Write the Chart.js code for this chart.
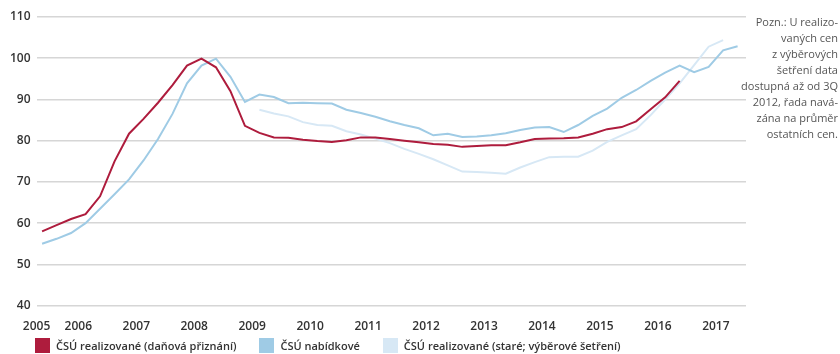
<!DOCTYPE html>
<html>
<head>
<meta charset="utf-8">
<script src="https://cdn.jsdelivr.net/npm/chart.js@4/dist/chart.umd.min.js"></script>
<style>
  html, body { margin: 0; padding: 0; background: #fff; }
  #wrap { position: relative; width: 840px; height: 354px; }
  #note {
    position: absolute; right: 2px; top: 14px;
    font: 11px "Liberation Sans Narrow", "Open Sans", sans-serif;
    color: #555; text-align: right; line-height: 16px;
  }
  #legend {
    position: absolute; left: 35px; top: 338px;
    display: flex; gap: 23px;
    font: 600 11px "Open Sans", sans-serif; color: #333;
  }
  #legend span.item { display: flex; align-items: center; }
  #legend span.box { width: 15px; height: 15px; margin-right: 6px; display: inline-block; }
</style>
</head>
<body>
<div id="wrap">
  <canvas id="chart" width="840" height="354"></canvas>
  <div id="note">Pozn.: U realizo-<br>vaných cen<br>z výběrových<br>šetření data<br>dostupná až od 3Q<br>2012, řada navá-<br>zána na průměr<br>ostatních cen.</div>
  <div id="legend"></div>
</div>
<script>
// čtvrtletí (první bod 2005Q2)
const firstYear = 2005, firstQ = 2;
const yearTicks = [2005, 2006, 2007, 2008, 2009, 2010, 2011, 2012, 2013, 2014, 2015, 2016, 2017];

// ČSÚ realizované (daňová přiznání) 2005Q2 - 2016Q2
const realDane = [
  58, 59.5, 61,
  62.2, 66.5, 75, 81.7,
  85.3, 89.2, 93.5, 98.2,
  99.9, 97.8, 92, 83.6,
  81.9, 80.8, 80.7, 80.2,
  79.9, 79.7, 80.1, 80.8,
  80.8, 80.4, 80.0, 79.6,
  79.2, 79.0, 78.5, 78.7,
  78.9, 78.9, 79.6, 80.4,
  80.5, 80.6, 80.8, 81.7,
  82.8, 83.3, 84.7, 87.6,
  90.5, 94.5
];

// ČSÚ nabídkové 2005Q2 - 2017Q2
const nabidkove = [
  55, 56.2, 57.6,
  60, 63.5, 67, 70.6,
  75.2, 80.4, 86.5, 93.9,
  98.2, 99.9, 95.5, 89.4,
  91.2, 90.6, 89.1, 89.2,
  89.1, 89.0, 87.5, 86.7,
  85.8, 84.7, 83.8, 83.0,
  81.3, 81.7, 80.9, 81.0,
  81.3, 81.8, 82.6, 83.2,
  83.3, 82.1, 83.8, 86.0,
  87.8, 90.4, 92.3, 94.5,
  96.5, 98.2, 96.6, 97.9,
  101.9, 102.9
];

// ČSÚ realizované (staré; výběrové šetření) 2009Q1 - 2017Q1
const stareStart = 2009;
const realStare = [
  87.5, 86.6, 85.9, 84.5,
  83.8, 83.6, 82.3, 81.5,
  80.5, 79.4, 78.0, 76.8,
  75.5, 74.0, 72.5, 72.4,
  72.2, 72.0, 73.5, 74.8,
  76.0, 76.1, 76.1, 77.6,
  79.7, 81.3, 82.8, 86.2,
  90.0, 93.9, 98.3, 102.8,
  104.4
];

// bod uprostřed čtvrtletí
function toPoints(values, year, q) {
  return values.map((v, i) => {
    const k = (q - 1) + i;
    return { x: year + Math.floor(k / 4) + ((k % 4) + 0.5) / 4, y: v };
  });
}

const datasets = [
  { label: 'ČSÚ realizované (daňová přiznání)', data: toPoints(realDane, firstYear, firstQ), borderColor: '#ae1c3d' },
  { label: 'ČSÚ nabídkové', data: toPoints(nabidkove, firstYear, firstQ), borderColor: '#9fcbe5' },
  { label: 'ČSÚ realizované (staré; výběrové šetření)', data: toPoints(realStare, stareStart, 1), borderColor: '#d7e8f5' }
];
datasets.forEach(d => {
  d.borderWidth = 2;
  d.pointRadius = 0;
  d.tension = 0;
  d.fill = false;
  d.backgroundColor = d.borderColor;
});

const xMin = 2005.28, xMax = 2017.52;

new Chart(document.getElementById('chart'), {
  type: 'line',
  data: { datasets: datasets },
  options: {
    responsive: false,
    animation: false,
    layout: { padding: { left: 4, right: 94, top: 17, bottom: 14 } },
    plugins: { legend: { display: false }, tooltip: { enabled: false } },
    scales: {
      x: {
        type: 'linear',
        min: xMin, max: xMax,
        afterBuildTicks: axis => { axis.ticks = yearTicks.map(y => ({ value: Math.max(y, xMin) })); },
        grid: { display: false },
        border: { display: false },
        ticks: {
          color: '#333', padding: 6, maxRotation: 0, autoSkip: false,
          font: { family: 'Open Sans', size: 12, weight: '600' },
          callback: v => Math.floor(v)
        }
      },
      y: {
        min: 40, max: 110,
        grid: { color: '#d6d6d6', lineWidth: 1.5, drawTicks: false },
        border: { display: false },
        ticks: {
          stepSize: 10, color: '#333', padding: 6,
          font: { family: 'Open Sans', size: 12, weight: '600' }
        }
      }
    }
  }
});

const legend = document.getElementById('legend');
datasets.forEach(d => {
  const item = document.createElement('span');
  item.className = 'item';
  item.innerHTML = '<span class="box" style="background:' + d.borderColor + '"></span>' + d.label;
  legend.appendChild(item);
});
</script>
</body>
</html>
